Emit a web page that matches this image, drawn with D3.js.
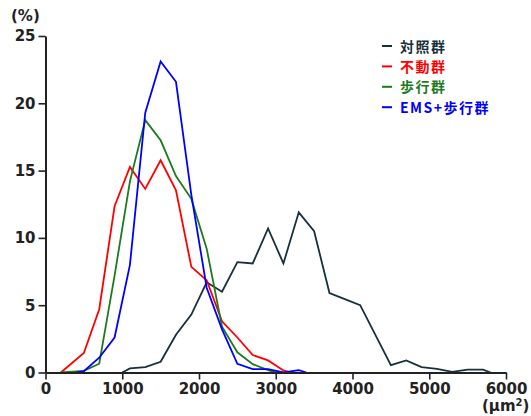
<!DOCTYPE html>
<html>
<head>
<meta charset="utf-8">
<script src="https://cdn.jsdelivr.net/npm/d3@7"></script>
<style>
  body { margin: 0; background: #fff; }
  svg text { font-family: "DejaVu Sans", Verdana, sans-serif; font-weight: bold; }
  .legend text { font-family: "Noto Sans CJK JP", sans-serif; font-weight: bold; letter-spacing: 1.5px; }
</style>
</head>
<body>
<div id="main"></div>
<script>
const WIDTH = 531;
const HEIGHT = 416;

// x = fibre cross-section area (um^2), y = frequency (%)
const controlX = [1000, 1100, 1300, 1500, 1700, 1900, 2100, 2300, 2500, 2700, 2900, 3100, 3300, 3500, 3700, 3900, 4100, 4500, 4700, 4900, 5100, 5300, 5500, 5700, 5800];
const controlY = [0, 0.3, 0.4, 0.8, 2.8, 4.3, 6.7, 6.0, 8.2, 8.1, 10.7, 8.1, 11.9, 10.5, 5.9, 5.45, 5.0, 0.55, 0.9, 0.4, 0.27, 0.05, 0.22, 0.22, 0];

const immobX = [200, 500, 700, 900, 1100, 1300, 1500, 1700, 1900, 2100, 2300, 2500, 2700, 2900, 3100, 3200];
const immobY = [0, 1.45, 4.7, 12.35, 15.27, 13.64, 15.77, 13.54, 7.85, 6.85, 3.8, 2.6, 1.3, 0.9, 0.15, 0];

const walkX = [200, 500, 700, 900, 1100, 1300, 1500, 1700, 1900, 2100, 2300, 2500, 2700, 2900, 3000];
const walkY = [0, 0.12, 0.65, 7.2, 14.2, 18.75, 17.25, 14.6, 12.9, 9.2, 3.4, 1.5, 0.62, 0.18, 0];

const emsX = [400, 500, 700, 900, 1100, 1300, 1500, 1700, 1900, 2100, 2300, 2500, 2700, 2900, 3100, 3300, 3400];
const emsY = [0, 0.1, 1.1, 2.6, 8.0, 19.3, 23.1, 21.6, 13.2, 6.3, 3.2, 0.65, 0.25, 0.25, 0, 0.18, 0];

const groupNames = ["対照群", "不動群", "歩行群", "EMS+歩行群"];
const groupColors = ["#17303b", "#ff0000", "#1e7a1e", "#0000ff"];

const xTicks = [0, 1000, 2000, 3000, 4000, 5000, 6000];
const yTicks = [0, 5, 10, 15, 20, 25];

const series = [
  { name: groupNames[0], color: groupColors[0], x: controlX, y: controlY },
  { name: groupNames[1], color: groupColors[1], x: immobX, y: immobY },
  { name: groupNames[2], color: groupColors[2], x: walkX, y: walkY },
  { name: groupNames[3], color: groupColors[3], x: emsX, y: emsY }
];

const svg = d3.select("#main")
  .append("svg")
  .attr("width", WIDTH)
  .attr("height", HEIGHT)
  .attr("viewBox", [0, 0, WIDTH, HEIGHT]);

const x = d3.scaleLinear().domain([0, 6000]).range([45.5, 506]);
const y = d3.scaleLinear().domain([0, 25]).range([372.5, 36]);

const line = d3.line()
  .x(d => x(d[0]))
  .y(d => y(d[1]));

// lines
series.forEach(s => {
  svg.append("path")
    .datum(d3.zip(s.x, s.y))
    .attr("fill", "none")
    .attr("stroke", s.color)
    .attr("stroke-width", 1.8)
    .attr("stroke-linejoin", "miter")
    .attr("d", line);
});

// axes
const xAxis = svg.append("g")
  .attr("transform", `translate(0, ${y(0)})`)
  .call(d3.axisBottom(x).tickValues(xTicks).tickFormat(d3.format("d")).tickSize(7).tickPadding(4).tickSizeOuter(0));

const yAxis = svg.append("g")
  .attr("transform", `translate(${x(0)}, 0)`)
  .call(d3.axisLeft(y).tickValues(yTicks).tickFormat(d3.format("d")).tickSize(7).tickPadding(3).tickSizeOuter(0));

[xAxis, yAxis].forEach(g => {
  g.select(".domain").attr("stroke", "#222").attr("stroke-width", 2);
  g.selectAll(".tick line").attr("stroke", "#222").attr("stroke-width", 1.6);
  g.selectAll(".tick text")
    .attr("fill", "#222")
    .style("font-size", "15px");
});

// unit labels
svg.append("text")
  .attr("x", 11)
  .attr("y", 21)
  .attr("fill", "#222")
  .style("font-size", "15px")
  .text("(%)");

svg.append("text")
  .attr("x", 482)
  .attr("y", 411)
  .attr("fill", "#222")
  .style("font-size", "15px")
  .html("(μm<tspan dy='-5' font-size='10'>2</tspan><tspan dy='5'>)</tspan>");

// legend
const legend = svg.append("g").attr("class", "legend");
series.forEach((s, i) => {
  const ly = 46 + i * 20.4;
  legend.append("line")
    .attr("x1", 382).attr("x2", 392)
    .attr("y1", ly).attr("y2", ly)
    .attr("stroke", s.color)
    .attr("stroke-width", 2);
  legend.append("text")
    .attr("x", 400)
    .attr("y", ly + 5.5)
    .attr("fill", s.color)
    .style("font-size", "14px")
    .text(s.name);
});
</script>
</body>
</html>
